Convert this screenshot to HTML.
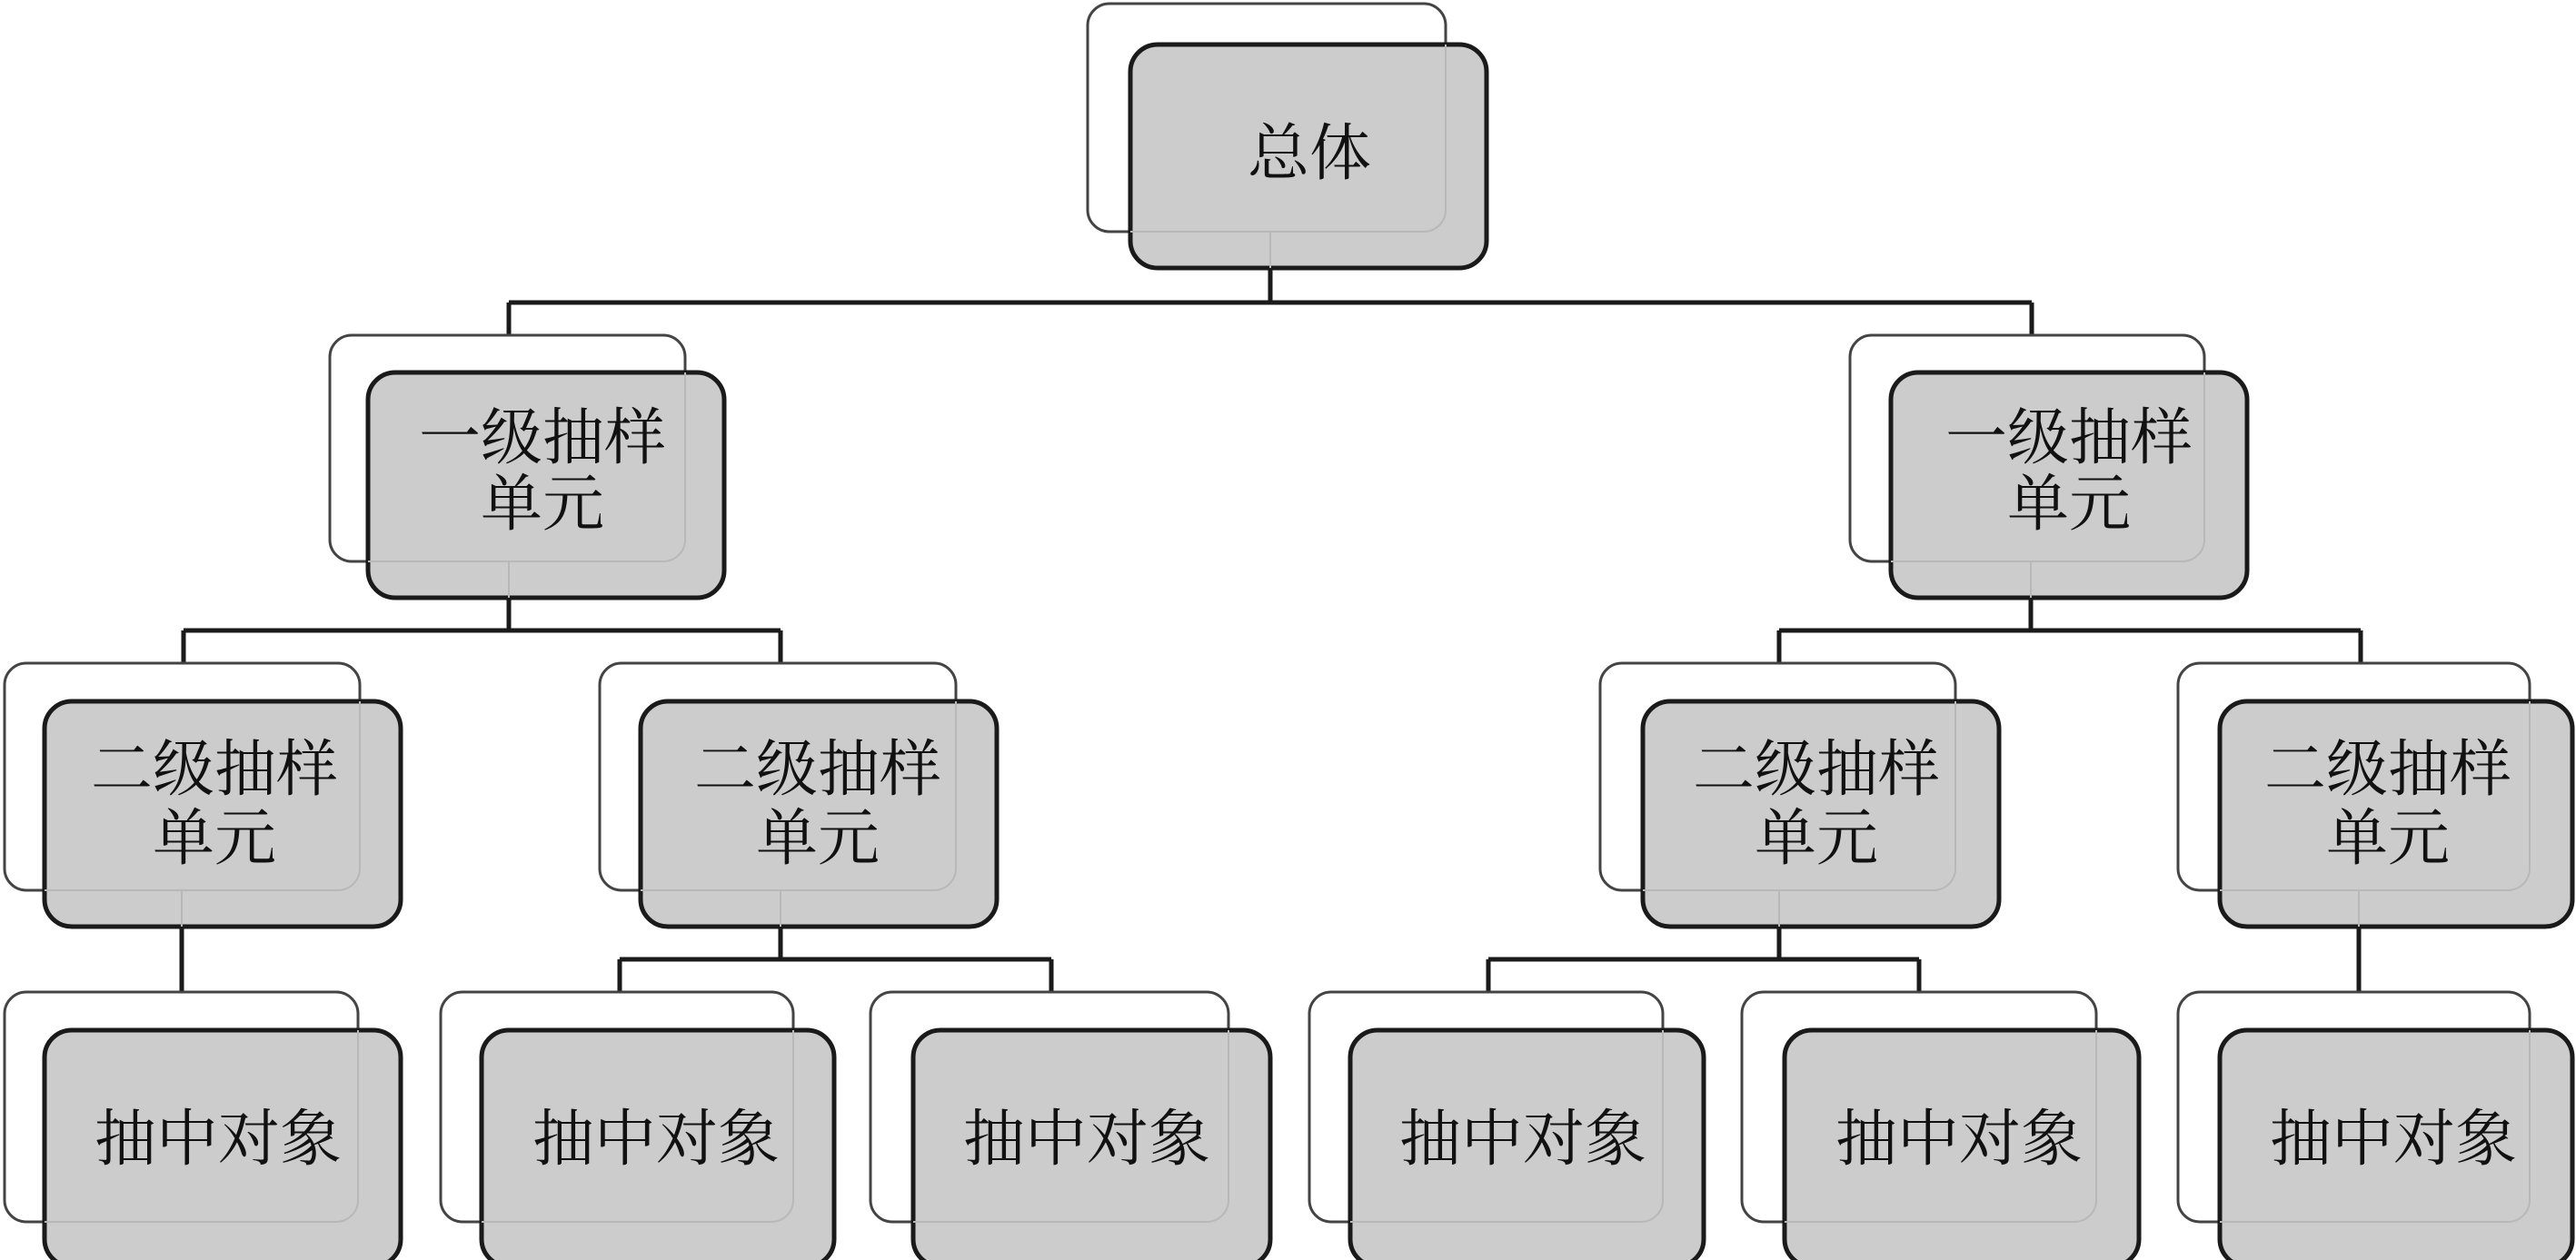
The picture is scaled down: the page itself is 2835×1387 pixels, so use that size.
<!DOCTYPE html>
<html><head><meta charset="utf-8"><style>
html,body{margin:0;padding:0;background:#fff;}
svg{display:block;}
text{font-family:"Liberation Serif","Noto Serif CJK SC",serif;font-size:68px;fill:#111;text-anchor:middle;}
</style></head><body>
<svg width="2835" height="1387" viewBox="0 0 2835 1387" xmlns="http://www.w3.org/2000/svg">
<g stroke="#1a1a1a" stroke-width="5" fill="none">
<path d="M1398 295V333M560 333H2236M560 333V369M2236 333V369"/>
<path d="M560 658V694M202 694H859M202 694V730M859 694V730"/>
<path d="M2235 658V694M1958 694H2598M1958 694V730M2598 694V730"/>
<path d="M200 1020V1092"/>
<path d="M859 1020V1056M682 1056H1157M682 1056V1092M1157 1056V1092"/>
<path d="M1958 1020V1056M1638 1056H2112M1638 1056V1092M2112 1056V1092"/>
<path d="M2596 1020V1092"/>
</g>
<g fill="#fff" stroke="#444" stroke-width="3">
<rect x="1197" y="4" width="394" height="251" rx="24"/>
<rect x="363" y="369" width="391" height="249" rx="24"/>
<rect x="2036" y="369" width="390" height="249" rx="24"/>
<rect x="5" y="730" width="391" height="250" rx="24"/>
<rect x="660" y="730" width="392" height="250" rx="24"/>
<rect x="1761" y="730" width="391" height="250" rx="24"/>
<rect x="2397" y="730" width="387" height="250" rx="24"/>
<rect x="5" y="1092" width="389" height="253" rx="24"/>
<rect x="485" y="1092" width="388" height="253" rx="24"/>
<rect x="958" y="1092" width="394" height="253" rx="24"/>
<rect x="1441" y="1092" width="389" height="253" rx="24"/>
<rect x="1917" y="1092" width="390" height="253" rx="24"/>
<rect x="2397" y="1092" width="387" height="253" rx="24"/>
</g>
<g fill="#cccccc" stroke="#1a1a1a" stroke-width="5">
<rect x="1244" y="49" width="392" height="246" rx="30"/>
<rect x="405" y="410" width="392" height="248" rx="30"/>
<rect x="2081" y="410" width="392" height="248" rx="30"/>
<rect x="49" y="772" width="392" height="248" rx="30"/>
<rect x="705" y="772" width="392" height="248" rx="30"/>
<rect x="1808" y="772" width="392" height="248" rx="30"/>
<rect x="2443" y="772" width="388" height="248" rx="30"/>
<rect x="49" y="1134" width="392" height="260" rx="30"/>
<rect x="530" y="1134" width="388" height="260" rx="30"/>
<rect x="1005" y="1134" width="393" height="260" rx="30"/>
<rect x="1486" y="1134" width="389" height="260" rx="30"/>
<rect x="1964" y="1134" width="390" height="260" rx="30"/>
<rect x="2443" y="1134" width="388" height="260" rx="30"/>
</g>
<g fill="none" stroke="#b8b8b8" stroke-width="2">
<path d="M1591 49V231a24 24 0 0 1-24 24H1244"/>
<path d="M754 410V594a24 24 0 0 1-24 24H405"/>
<path d="M2426 410V594a24 24 0 0 1-24 24H2081"/>
<path d="M396 772V956a24 24 0 0 1-24 24H49"/>
<path d="M1052 772V956a24 24 0 0 1-24 24H705"/>
<path d="M2152 772V956a24 24 0 0 1-24 24H1808"/>
<path d="M2784 772V956a24 24 0 0 1-24 24H2443"/>
<path d="M394 1134V1321a24 24 0 0 1-24 24H49"/>
<path d="M873 1134V1321a24 24 0 0 1-24 24H530"/>
<path d="M1352 1134V1321a24 24 0 0 1-24 24H1005"/>
<path d="M1830 1134V1321a24 24 0 0 1-24 24H1486"/>
<path d="M2307 1134V1321a24 24 0 0 1-24 24H1964"/>
<path d="M2784 1134V1321a24 24 0 0 1-24 24H2443"/>
<path d="M1398 255V295M560 618V658M2235 618V658M200 980V1020M859 980V1020M1958 980V1020M2596 980V1020"/>
</g>
<text x="1441" y="192">总体</text>
<text x="597" y="505">一级抽样</text><text x="597" y="578">单元</text>
<text x="2277" y="505">一级抽样</text><text x="2277" y="578">单元</text>
<text x="236" y="870">二级抽样</text><text x="236" y="946">单元</text>
<text x="900" y="870">二级抽样</text><text x="900" y="946">单元</text>
<text x="1999" y="870">二级抽样</text><text x="1999" y="946">单元</text>
<text x="2628" y="870">二级抽样</text><text x="2628" y="946">单元</text>
<text x="240" y="1277">抽中对象</text>
<text x="722" y="1277">抽中对象</text>
<text x="1196" y="1277">抽中对象</text>
<text x="1676" y="1277">抽中对象</text>
<text x="2156" y="1277">抽中对象</text>
<text x="2634" y="1277">抽中对象</text>
</svg>
</body></html>
